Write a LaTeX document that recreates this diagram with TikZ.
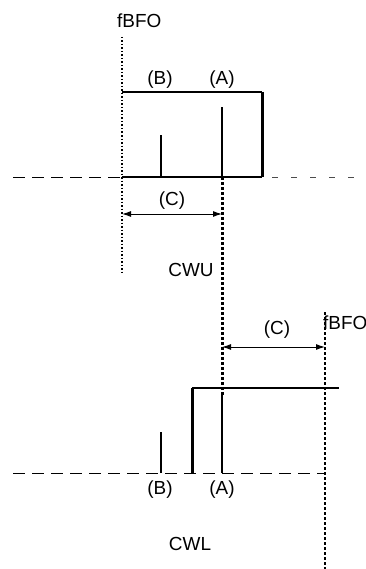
\documentclass[tikz,border=0pt]{standalone}
\usepackage{fontspec}
\setmainfont{Liberation Sans}
\usetikzlibrary{arrows.meta}
\begin{document}
\begin{tikzpicture}[x=1bp,y=-1bp,
  lbl/.style={inner sep=0pt,font=\fontsize{19}{22}\selectfont},
  fdot/.style={line width=1.4bp,dash pattern=on 1.5bp off 2bp},
  fdash/.style={line width=1.4bp,dash pattern=on 3bp off 2bp},
  cwdot/.style={line width=3bp,dash pattern=on 3bp off 2bp},
  base/.style={line width=1bp,dash pattern=on 12bp off 7bp},
  faint/.style={line width=1bp,black!70,dash pattern=on 6bp off 13bp},
  edge/.style={line width=1.8bp},
  thick edge/.style={line width=3bp},
  spike/.style={line width=1.2bp},
  dim/.style={line width=1bp,{Latex[length=9bp,width=6bp]}-{Latex[length=9bp,width=6bp]}}]
\useasboundingbox (0,0) rectangle (365,569);

% ---------- upper (CWU) ----------
\coordinate (fu1) at (122,37);
\coordinate (fu2) at (122,275);
\coordinate (bl) at (122,177);
\coordinate (br) at (262,177);
\coordinate (tl) at (122,92);
\coordinate (tr) at (262,92);
\coordinate (ub1) at (13,177);
\coordinate (ub2) at (355,177);
\coordinate (uBb) at (161,177);
\coordinate (uBt) at (161,135);
\coordinate (uAb) at (222,177);
\coordinate (uAt) at (222,107);
\coordinate (cw1) at (222,177);
\coordinate (cw2) at (222,395);
\coordinate (uc1) at (122,214);
\coordinate (uc2) at (222,214);

\node[lbl,anchor=west] (fbfoU) at (117,21) {fBFO};
\node[lbl] (labBU) at (160,80) {(B)};
\node[lbl] (labAU) at (222,80) {(A)};
\node[lbl] (labCU) at (172,201) {(C)};
\node[lbl] (cwu) at (191,270) {CWU};

\draw[base] (ub1) -- (bl);
\draw[faint] (br) ++(10,0) -- (ub2);
\draw[spike] (bl) -- (br);
\draw[edge] (tl) -- (tr);
\draw[thick edge] (tr) -- (br);
\draw[spike] (uBb) -- (uBt);
\draw[spike] (uAb) -- (uAt);
\draw[fdot] (fu1) -- (fu2);
\draw[cwdot] (cw1) -- (cw2);
\draw[dim] (uc1) -- (uc2);

% ---------- lower (CWL) ----------
\coordinate (fl1) at (325,312);
\coordinate (fl2) at (325,569);
\coordinate (lb1) at (13,473);
\coordinate (lb2) at (325,473);
\coordinate (ltl) at (192,388);
\coordinate (ltr) at (339,388);
\coordinate (lbl0) at (192,473);
\coordinate (lBb) at (161,473);
\coordinate (lBt) at (161,432);
\coordinate (lAb) at (222,473);
\coordinate (lAt) at (222,395);
\coordinate (lc1) at (222,347);
\coordinate (lc2) at (325,347);

\node[lbl,anchor=west] (fbfoL) at (323,323) {fBFO};
\node[lbl] (labCL) at (277,330) {(C)};
\node[lbl] (labBL) at (160,490) {(B)};
\node[lbl] (labAL) at (222,490) {(A)};
\node[lbl] (cwl) at (190,544) {CWL};

\draw[base] (lb1) -- (lb2);
\draw[edge] (ltl) -- (ltr);
\draw[thick edge] (lbl0) -- (ltl);
\draw[spike] (lBb) -- (lBt);
\draw[spike] (lAb) -- (lAt);
\draw[fdash] (fl1) -- (fl2);
\draw[dim] (lc1) -- (lc2);
\end{tikzpicture}
\end{document}
